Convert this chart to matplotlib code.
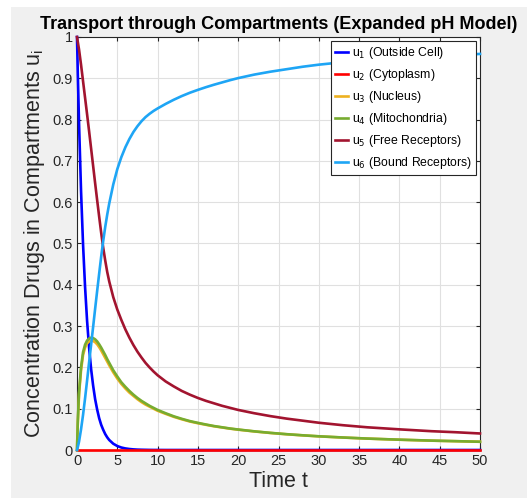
import matplotlib
matplotlib.use("Agg")
import matplotlib.pyplot as plt
from matplotlib.patches import Rectangle
from matplotlib.ticker import FormatStrFormatter, MultipleLocator

plt.rcParams['font.family'] = ['Liberation Sans', 'DejaVu Sans']

t = [0, 0.1, 0.25, 0.5, 0.75, 1, 1.25, 1.5, 1.75, 2, 2.25, 2.5, 2.75, 3, 3.25, 3.5, 3.75,
     4, 4.5, 5, 5.5, 6, 6.5, 7, 7.5, 8, 8.5, 9, 9.5, 10, 11, 12, 13, 14, 15, 16, 17, 18, 19,
     20, 22, 24, 26, 28, 30, 33, 36, 40, 44, 47, 50]

u1 = [1, 0.911, 0.793, 0.628, 0.498, 0.395, 0.313, 0.248, 0.196, 0.156, 0.123, 0.098, 0.077,
      0.061, 0.049, 0.0386, 0.0306, 0.0242, 0.0152, 0.0096, 0.006, 0.0038, 0.0024, 0.0015,
      0.0009, 0.0006, 0.0004, 0.0002, 0.0001, 0.0001,
      0, 0, 0, 0, 0, 0, 0, 0, 0, 0, 0, 0, 0, 0, 0, 0, 0, 0, 0, 0, 0]
u2 = [0] * 51
u3 = [0, 0.066, 0.134, 0.193, 0.23, 0.248, 0.258, 0.263, 0.265, 0.264, 0.261, 0.256, 0.249,
      0.241, 0.232, 0.223, 0.214, 0.205, 0.188, 0.173, 0.160, 0.149, 0.139, 0.131, 0.123,
      0.116, 0.110, 0.105, 0.100, 0.095, 0.0875, 0.0803, 0.0744, 0.069, 0.0648, 0.061,
      0.0574, 0.0545, 0.0516, 0.0492, 0.0449, 0.0412, 0.0381, 0.0354, 0.033, 0.0301,
      0.0276, 0.0249, 0.0226, 0.0213, 0.0199]
u4 = [0, 0.07, 0.14, 0.20, 0.237, 0.255, 0.265, 0.270, 0.272, 0.271, 0.268, 0.263, 0.256,
      0.248, 0.239, 0.230, 0.220, 0.211, 0.193, 0.178, 0.164, 0.153, 0.143, 0.134, 0.126,
      0.119, 0.113, 0.107, 0.102, 0.097, 0.089, 0.0816, 0.0755, 0.070, 0.0657, 0.0617,
      0.058, 0.055, 0.052, 0.0496, 0.0452, 0.0415, 0.0383, 0.0356, 0.0332, 0.0303, 0.0277,
      0.025, 0.0227, 0.0214, 0.020]
u5 = [1, 0.988, 0.970, 0.933, 0.893, 0.853, 0.813, 0.772, 0.730, 0.688, 0.646, 0.605, 0.565,
      0.526, 0.490, 0.459, 0.431, 0.408, 0.370, 0.340, 0.315, 0.292, 0.272, 0.254, 0.238,
      0.224, 0.211, 0.200, 0.190, 0.181, 0.166, 0.154, 0.143, 0.134, 0.126, 0.119, 0.113,
      0.107, 0.102, 0.097, 0.089, 0.082, 0.076, 0.071, 0.066, 0.060, 0.055, 0.050, 0.0455,
      0.043, 0.040]
u6 = [0, 0.007, 0.02, 0.05, 0.085, 0.125, 0.168, 0.212, 0.255, 0.298, 0.342, 0.385, 0.427,
      0.468, 0.506, 0.540, 0.570, 0.597, 0.643, 0.680, 0.709, 0.733, 0.753, 0.770, 0.784,
      0.796, 0.806, 0.814, 0.821, 0.827, 0.838, 0.848, 0.857, 0.865, 0.872, 0.8785, 0.8845,
      0.890, 0.8955, 0.9005, 0.909, 0.916, 0.922, 0.928, 0.933, 0.939, 0.944, 0.949, 0.953,
      0.956, 0.959]

series = [u1, u2, u3, u4, u5, u6]
labels = ["u$_1$ (Outside Cell)", "u$_2$ (Cytoplasm)", "u$_3$ (Nucleus)",
          "u$_4$ (Mitochondria)", "u$_5$ (Free Receptors)", "u$_6$ (Bound Receptors)"]
colors = ["#0000ff", "#ff0000", "#edb120", "#77ac30", "#a2142f", "#1ea5f5"]

fig = plt.figure(figsize=(5.27, 4.98), dpi=100, facecolor="white")
fig.patches.append(Rectangle((11 / 527, 0), 1 - 11 / 527, 1 - 7 / 498,
                             transform=fig.transFigure, facecolor="#f0f0f0",
                             edgecolor="none", zorder=-10))
ax = fig.add_axes([77 / 527, 1 - 450 / 498, (480 - 77) / 527, (450 - 37) / 498])
ax.set_facecolor("white")

for y, lab, c in zip(series, labels, colors):
    ax.plot(t, y, color=c, lw=1.9, label=lab, clip_on=False, zorder=3,
            solid_joinstyle="round")

ax.set_xlim(0, 50)
ax.set_ylim(0, 1)
ax.xaxis.set_major_locator(MultipleLocator(5))
ax.yaxis.set_major_locator(MultipleLocator(0.1))
ax.yaxis.set_major_formatter(FormatStrFormatter("%g"))
ax.xaxis.set_major_formatter(FormatStrFormatter("%g"))
ax.grid(True, color="#e0e0e0", lw=0.8)
ax.set_axisbelow(True)
ax.tick_params(direction="in", top=True, right=True, length=3, labelsize=10.5,
               colors="#262626", pad=3)
for s in ax.spines.values():
    s.set_color("#262626")
    s.set_linewidth(0.8)

ax.set_xlabel("Time t", fontsize=15.5, color="#262626", labelpad=2)
ax.set_ylabel("Concentration Drugs in Compartments u$_\\mathregular{i}$", fontsize=15.5,
              color="#262626", labelpad=4)
ax.set_title("Transport through Compartments (Expanded pH Model)", fontsize=13,
             fontweight="bold", pad=6)

leg = ax.legend(loc="upper right", fontsize=8.8, fancybox=False, framealpha=1,
                edgecolor="#262626", handlelength=1.1, handletextpad=0.3,
                borderaxespad=0.35, labelspacing=0.5, borderpad=0.3)
leg.get_frame().set_linewidth(0.8)
leg.set_zorder(5)

fig.savefig("out.png", dpi=100, facecolor=fig.get_facecolor())
